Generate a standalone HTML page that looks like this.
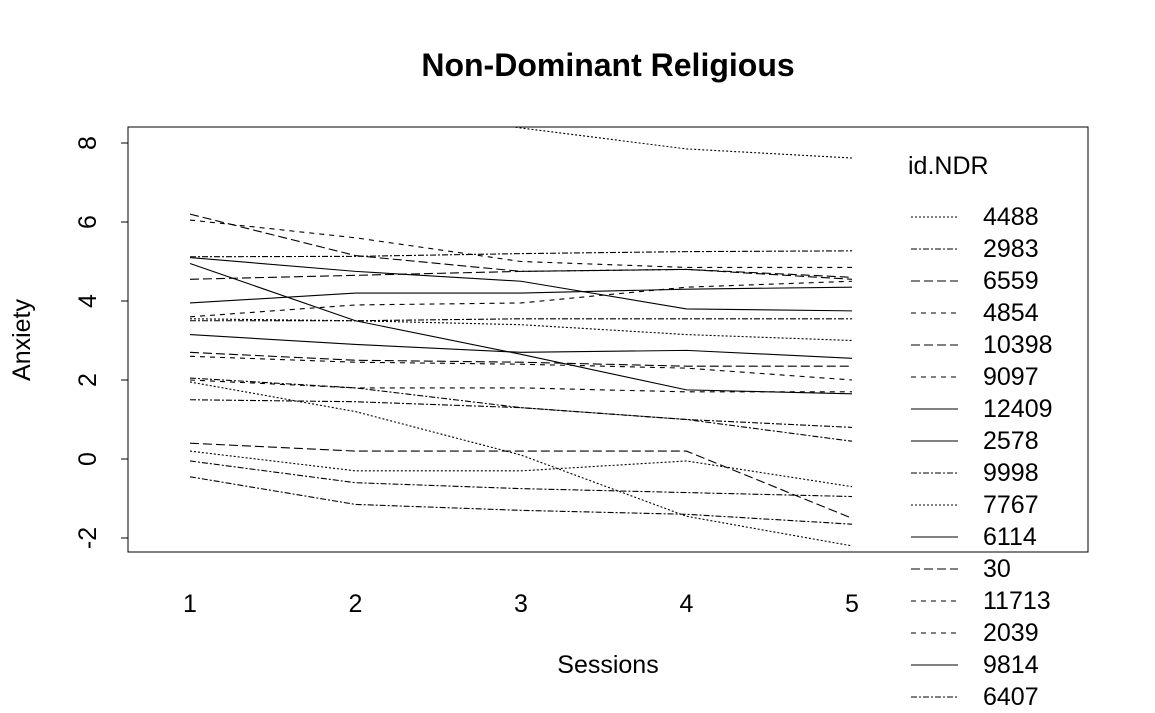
<!DOCTYPE html>
<html><head><meta charset="utf-8"><style>
html,body{margin:0;padding:0;background:#fff;width:1155px;height:713px;overflow:hidden}
svg{display:block;font-family:"Liberation Sans",Arial,sans-serif}
</style></head><body>
<svg id="chart" width="1155" height="713" viewBox="0 0 1155 713">
<text x="608" y="76" text-anchor="middle" font-size="32" font-weight="bold">Non-Dominant Religious</text>
<rect x="128" y="127" width="960" height="425" fill="none" stroke="#000" stroke-width="1"/>
<g id="yaxis"></g>
<g id="xaxis"></g>
<text x="608" y="673" text-anchor="middle" font-size="25">Sessions</text>
<text transform="translate(30,340) rotate(-90)" text-anchor="middle" font-size="25">Anxiety</text>
<defs><clipPath id="clip"><rect x="128" y="127" width="960" height="425"/></clipPath></defs>
<g id="lines" clip-path="url(#clip)"></g>
<text x="908" y="174" font-size="25">id.NDR</text>
<g id="legend"></g>
</svg>
<script>
const sessions = [1, 2, 3, 4, 5];
const yTicks = [-2, 0, 2, 4, 6, 8];
const ids = ["4488","2983","6559","4854","10398","9097","12409","2578","9998","7767","6114","30","11713","2039","9814","6407","5120","3311","8802","1507","7044","2290"];
const dashes = ["2,2","6,2,2,2","9,4","5,5","9,4","5,5","","","6,2,2,2","2,2","","9,4","5,5","5,5","","6,2,2,2","2,2","6,2,2,2","9,4","2,2","6,2,2,2","6,2,2,2"];
const s01 = [10, 9, 8.38, 7.85, 7.62];
const s02 = [5.12, 5.13, 5.2, 5.25, 5.27];
const s03 = [6.2, 5.15, 4.75, 4.8, 4.55];
const s04 = [6.05, 5.6, 5.0, 4.85, 4.85];
const s05 = [4.55, 4.65, 4.75, 4.8, 4.6];
const s06 = [3.6, 3.9, 3.95, 4.35, 4.5];
const s07 = [5.1, 4.75, 4.5, 3.8, 3.75];
const s08 = [4.95, 3.5, 2.65, 1.75, 1.65];
const s09 = [3.5, 3.5, 3.55, 3.55, 3.55];
const s10 = [3.55, 3.5, 3.4, 3.15, 3.0];
const s11 = [3.95, 4.2, 4.2, 4.3, 4.35];
const s12 = [2.7, 2.5, 2.45, 2.35, 2.35];
const s13 = [2.6, 2.45, 2.4, 2.3, 2.0];
const s14 = [2.0, 1.8, 1.8, 1.7, 1.7];
const s15 = [3.15, 2.9, 2.7, 2.75, 2.55];
const s16 = [2.05, 1.8, 1.3, 1.0, 0.8];
const s17 = [1.95, 1.2, 0.1, -1.45, -2.2];
const s18 = [1.5, 1.45, 1.3, 1.0, 0.45];
const s19 = [0.4, 0.2, 0.2, 0.2, -1.5];
const s20 = [0.2, -0.3, -0.3, -0.05, -0.7];
const s21 = [-0.05, -0.6, -0.75, -0.85, -0.95];
const s22 = [-0.45, -1.15, -1.3, -1.4, -1.65];
const series = [s01,s02,s03,s04,s05,s06,s07,s08,s09,s10,s11,s12,s13,s14,s15,s16,s17,s18,s19,s20,s21,s22];

const NS = "http://www.w3.org/2000/svg";
const xScale = v => 190 + (v - 1) * 165.5;
const yScale = v => 459 - v * 39.5;

const ya = document.getElementById("yaxis");
for (const t of yTicks) {
  const y = yScale(t);
  const l = document.createElementNS(NS, "line");
  l.setAttribute("x1", 121); l.setAttribute("x2", 128);
  l.setAttribute("y1", y); l.setAttribute("y2", y);
  l.setAttribute("stroke", "#000");
  
  
  ya.appendChild(l);
  const tx = document.createElementNS(NS, "text");
  tx.setAttribute("transform", `translate(96,${y}) rotate(-90)`);
  tx.setAttribute("text-anchor", "middle");
  tx.setAttribute("font-size", "25");
  tx.textContent = t;
  
  
  ya.appendChild(tx);
}
const xa = document.getElementById("xaxis");
for (const s of sessions) {
  const tx = document.createElementNS(NS, "text");
  tx.setAttribute("x", xScale(s)); tx.setAttribute("y", 612);
  tx.setAttribute("text-anchor", "middle");
  tx.setAttribute("font-size", "25");
  tx.textContent = s;
  
  
  xa.appendChild(tx);
}
const lg = document.getElementById("lines");
series.forEach((vals, i) => {
  const p = document.createElementNS(NS, "polyline");
  p.setAttribute("points", vals.map((v, j) => xScale(sessions[j]) + "," + yScale(v)).join(" "));
  p.setAttribute("fill", "none");
  p.setAttribute("stroke", "#000");
  p.setAttribute("stroke-width", "1.1");
  if (dashes[i]) p.setAttribute("stroke-dasharray", dashes[i]);
  
  
  lg.appendChild(p);
});
const leg = document.getElementById("legend");
ids.slice(0, 16).forEach((id, i) => {
  const y = 217 + i * 32;
  const l = document.createElementNS(NS, "line");
  l.setAttribute("x1", 911); l.setAttribute("x2", 958);
  l.setAttribute("y1", y); l.setAttribute("y2", y);
  l.setAttribute("stroke", "#000");
  if (dashes[i]) l.setAttribute("stroke-dasharray", dashes[i]);
  
  
  leg.appendChild(l);
  const t = document.createElementNS(NS, "text");
  t.setAttribute("x", 983); t.setAttribute("y", y + 8);
  t.setAttribute("font-size", "25");
  t.textContent = id;
  
  
  leg.appendChild(t);
});
</script>
</body></html>
